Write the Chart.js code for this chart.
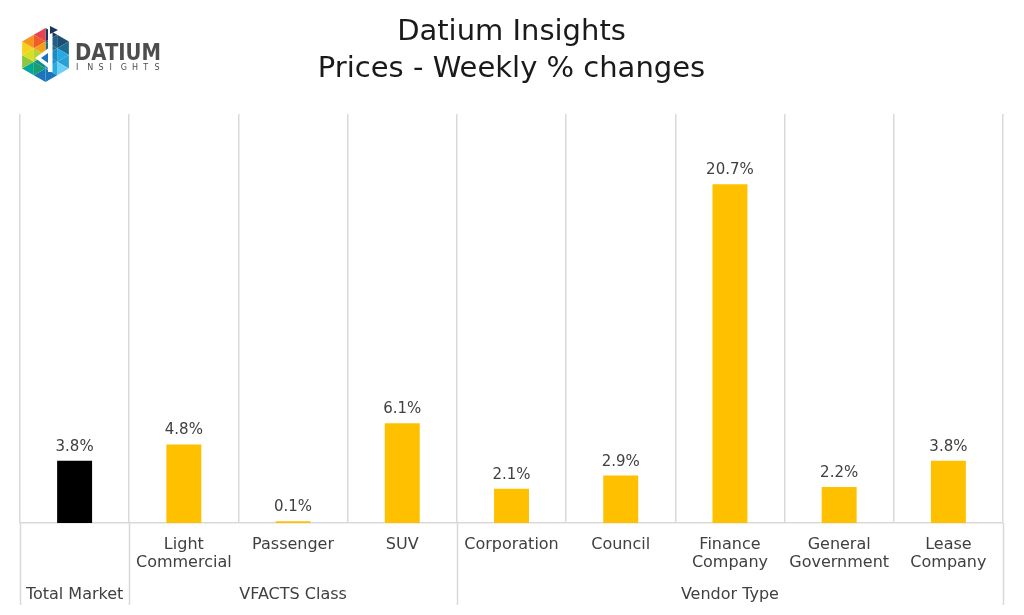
<!DOCTYPE html>
<html>
<head>
<meta charset="utf-8">
<title>Datium Insights - Prices</title>
<script src="https://cdn.jsdelivr.net/npm/chart.js@4.4.1/dist/chart.umd.min.js"></script>
<style>
html, body { margin: 0; padding: 0; background: #ffffff; }
#contenedor { width: 1024px; height: 615px; position: relative; }
</style>
</head>
<body>
<div id="contenedor"><canvas id="grafico"></canvas></div>
<script>
// Datos del gráfico
const categorias = ['', ['Light', 'Commercial'], 'Passenger', 'SUV', 'Corporation', 'Council',
                    ['Finance', 'Company'], ['General', 'Government'], ['Lease', 'Company']];
const valores = [3.8, 4.8, 0.1, 6.1, 2.1, 2.9, 20.7, 2.2, 3.8];
const grupos = ['Total Market', 'VFACTS Class', 'Vendor Type'];
const tamanosGrupo = [1, 3, 5];
const titulo = ['Datium Insights', 'Prices - Weekly % changes'];

const FUENTE = '"DejaVu Sans", sans-serif';
const GRIS_LINEA = '#d9d9d9';
const GRIS_TEXTO = '#404040';

// Etiquetas de valor encima de cada barra
const etiquetasValores = {
    id: 'etiquetasValores',
    afterDatasetsDraw(chart) {
        const ctx = chart.ctx;
        const meta = chart.getDatasetMeta(0);
        ctx.save();
        ctx.font = '15px ' + FUENTE;
        ctx.fillStyle = GRIS_TEXTO;
        ctx.textAlign = 'center';
        ctx.textBaseline = 'alphabetic';
        meta.data.forEach((barra, i) => {
            ctx.fillText(valores[i].toFixed(1) + '%', barra.x, barra.y - 10);
        });
        ctx.restore();
    }
};

// Separadores y nombres de grupo debajo del eje
const gruposEje = {
    id: 'gruposEje',
    afterDraw(chart) {
        const ctx = chart.ctx;
        const escala = chart.scales.x;
        const area = chart.chartArea;
        const ancho = escala.getPixelForValue(1) - escala.getPixelForValue(0);
        const borde = (indice) => escala.getPixelForValue(0) - ancho / 2 + indice * ancho;

        ctx.save();
        ctx.strokeStyle = GRIS_LINEA;
        ctx.lineWidth = 1.5;
        let indice = 0;
        const bordes = [0];
        tamanosGrupo.forEach(n => { indice += n; bordes.push(indice); });
        bordes.forEach(b => {
            const x = Math.round(borde(b)) + 0.5;
            ctx.beginPath();
            ctx.moveTo(x, area.bottom);
            ctx.lineTo(x, 605);
            ctx.stroke();
        });

        ctx.font = '16px ' + FUENTE;
        ctx.fillStyle = GRIS_TEXTO;
        ctx.textAlign = 'center';
        ctx.textBaseline = 'middle';
        grupos.forEach((nombre, i) => {
            const centro = (borde(bordes[i]) + borde(bordes[i + 1])) / 2;
            ctx.fillText(nombre, centro, 595);
        });
        ctx.restore();
    }
};

// Logotipo de Datium en la esquina superior izquierda
const logotipo = {
    id: 'logotipo',
    afterDraw(chart) {
        const ctx = chart.ctx;
        const cx = 45.5, cy = 55, r = 27;
        const vertices = [];
        for (let k = 0; k < 6; k++) {
            const ang = (-90 + 60 * k) * Math.PI / 180;
            vertices.push([cx + r * Math.cos(ang), cy + r * Math.sin(ang)]);
        }
        const medio = (a, b) => [(a[0] + b[0]) / 2, (a[1] + b[1]) / 2];
        const coloresSector = [
            ['#1b365d', '#1d4f73', '#235f85', '#1f6f8b'],
            ['#1d6c91', '#2a9fd6', '#27aae1', '#1c8cc0'],
            ['#6dcff6', '#1c75bc', '#29abe2', '#1a8ccf'],
            ['#1c75bc', '#00a79d', '#1a9e6f', '#0f8f8a'],
            ['#8dc63f', '#f7d117', '#d7df23', '#b5d334'],
            ['#f7941d', '#e8434f', '#f15a29', '#f6a01a']
        ];
        const tri = (p, color) => {
            ctx.beginPath();
            ctx.moveTo(p[0][0], p[0][1]);
            ctx.lineTo(p[1][0], p[1][1]);
            ctx.lineTo(p[2][0], p[2][1]);
            ctx.closePath();
            ctx.fillStyle = color;
            ctx.fill();
        };
        ctx.save();
        for (let k = 0; k < 6; k++) {
            const a = vertices[k], b = vertices[(k + 1) % 6], c = [cx, cy];
            const ma = medio(c, a), mb = medio(a, b), mc = medio(c, b);
            const col = coloresSector[k];
            tri([a, mb, ma], col[0]);
            tri([b, mc, mb], col[1]);
            tri([ma, mb, mc], col[2]);
            tri([c, ma, mc], col[3]);
        }
        // letra "d" en blanco
        ctx.fillStyle = '#ffffff';
        ctx.fillRect(48, 26, 4.5, 46);
        tri([[35, 58], [50, 47], [50, 69]], '#ffffff');
        tri([[41, 58], [48, 53], [48, 63]], '#1c75bc');
        tri([[50, 26], [58, 30], [50, 34]], '#1b365d');

        // texto del logotipo
        ctx.fillStyle = '#4d4d4d';
        ctx.textAlign = 'left';
        ctx.textBaseline = 'alphabetic';
        ctx.font = 'bold 23px ' + FUENTE;
        ctx.fillText('DATIUM', 75, 60, 86);
        ctx.font = '8px ' + FUENTE;
        const letras = 'INSIGHTS';
        for (let i = 0; i < letras.length; i++) {
            ctx.fillText(letras[i], 76 + i * 11.2, 70);
        }
        ctx.restore();
    }
};

new Chart(document.getElementById('grafico'), {
    type: 'bar',
    data: {
        labels: categorias,
        datasets: [{
            data: valores,
            backgroundColor: valores.map((v, i) => i === 0 ? '#000000' : '#ffc000'),
            categoryPercentage: 1,
            barPercentage: 0.32
        }]
    },
    options: {
        responsive: true,
        maintainAspectRatio: false,
        animation: false,
        layout: { padding: { left: 20, right: 21, top: 0, bottom: 0 } },
        plugins: {
            legend: { display: false },
            tooltip: { enabled: false },
            title: {
                display: true,
                text: titulo,
                color: '#1a1a1a',
                font: { family: FUENTE, size: 29, weight: 'normal', lineHeight: 37 / 29 },
                padding: { top: 14, bottom: 26 }
            }
        },
        scales: {
            x: {
                offset: true,
                grid: { display: true, offset: true, color: GRIS_LINEA, lineWidth: 1.5, drawTicks: false },
                border: { display: true, color: GRIS_LINEA, width: 1.5 },
                ticks: {
                    color: GRIS_TEXTO,
                    padding: 13,
                    maxRotation: 0,
                    autoSkip: false,
                    font: { family: FUENTE, size: 16, lineHeight: 18 / 16 }
                },
                afterFit: (escala) => { escala.height = 92; }
            },
            y: {
                display: false,
                min: 0,
                max: 25
            }
        }
    },
    plugins: [etiquetasValores, gruposEje, logotipo]
});
</script>
</body>
</html>
